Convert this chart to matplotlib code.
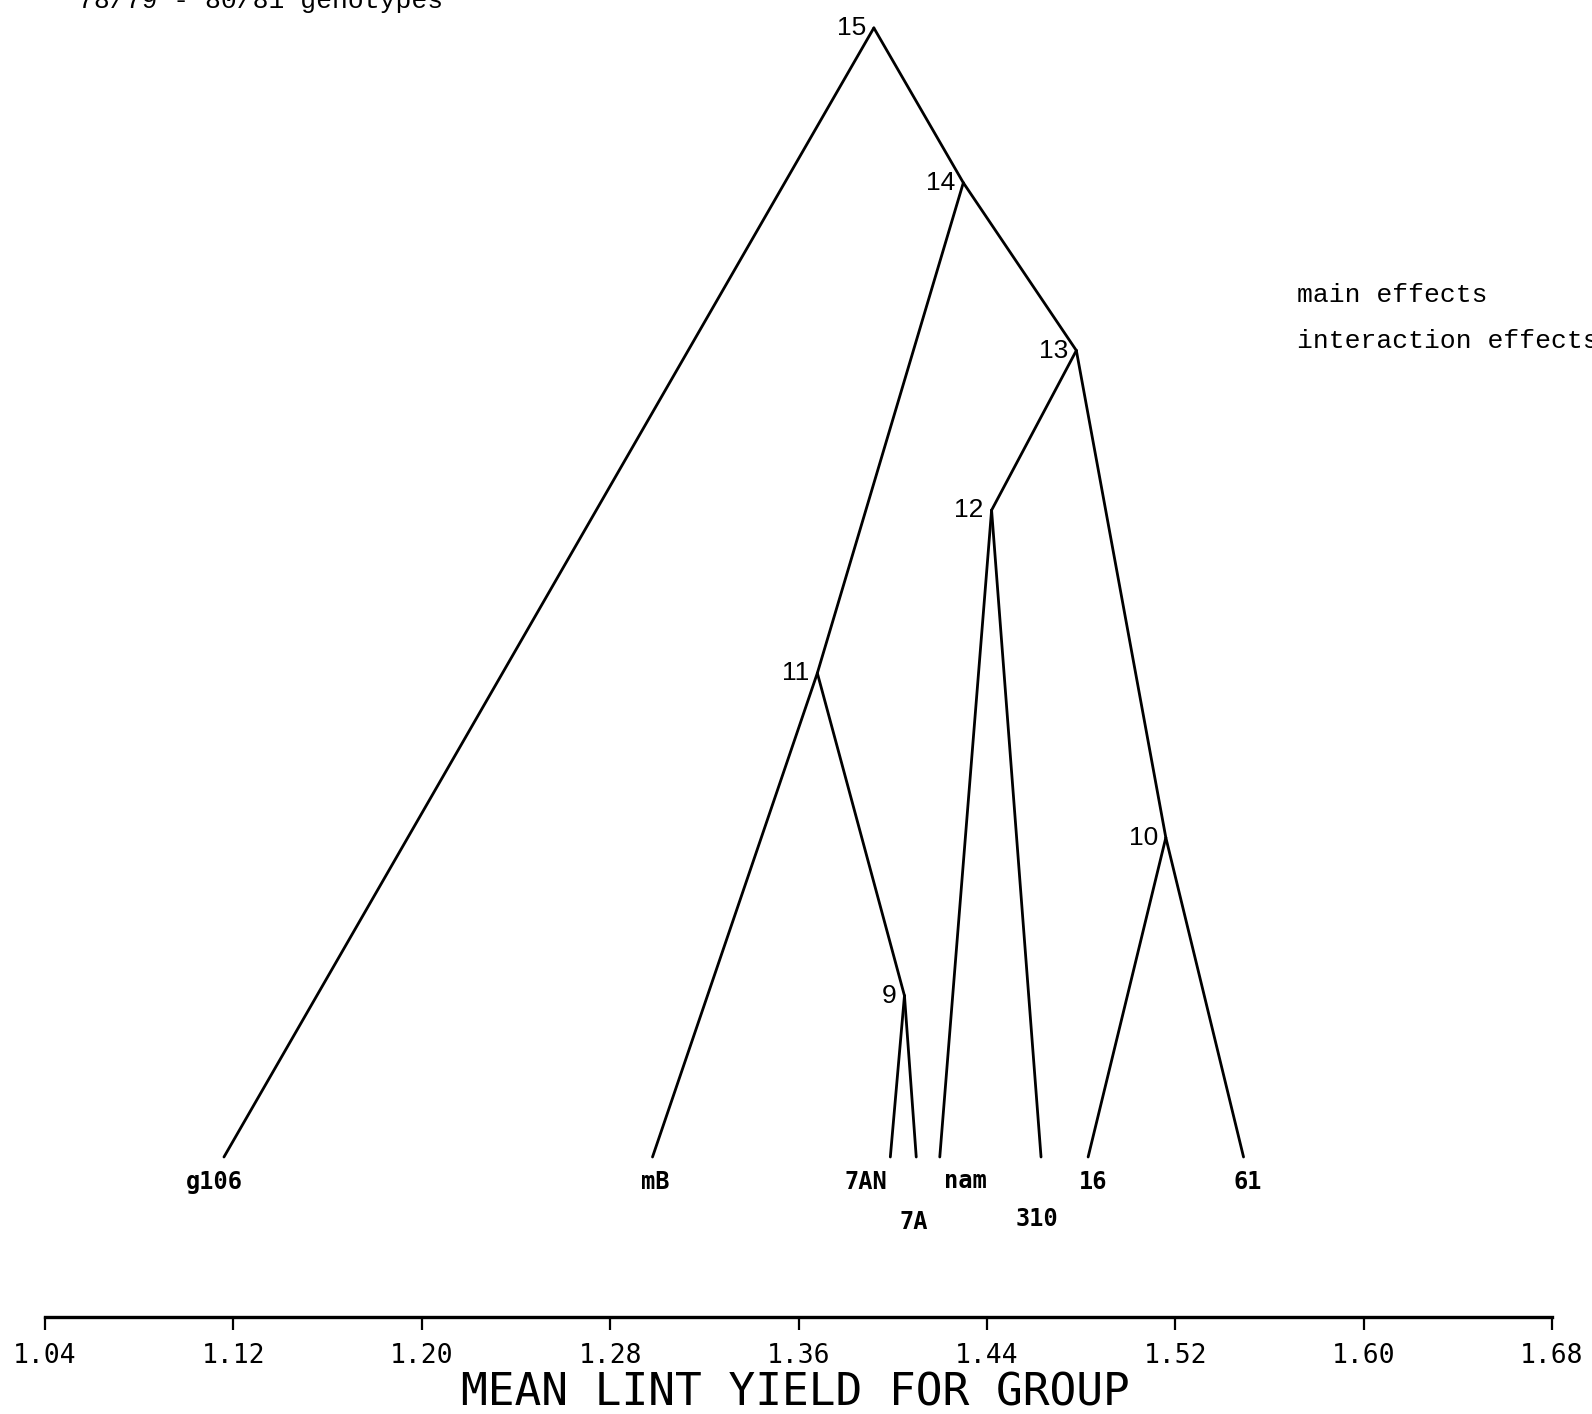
import matplotlib.pyplot as plt

# ── Genotype leaves: mean lint yield ─────────────────────────────────────────
leaf_names = ['g106', 'mB', '7AN', '7A', 'nam', '310', '16', '61']
leaf_yield = [1.116, 1.298, 1.399, 1.410, 1.420, 1.463, 1.483, 1.549]

# ── Fusion nodes: group mean yield, fusion level, the two groups joined ─────
node_ids = [9, 10, 11, 12, 13, 14, 15]
node_yield = [1.405, 1.516, 1.368, 1.442, 1.478, 1.430, 1.392]
node_level = [1.0, 1.98, 3.0, 4.01, 5.0, 6.04, 7.0]
node_children = [('7AN', '7A'), ('16', '61'), ('mB', 9), ('nam', '310'),
                 (12, 10), (11, 13), ('g106', 14)]

tick_values = [1.04, 1.12, 1.20, 1.28, 1.36, 1.44, 1.52, 1.60, 1.68]

# leaf label offsets in pixels (dx, dy) below the leaf tips
LEAF_OFF = {'g106': (-10, -25), 'mB': (3, -25), '7AN': (-24, -25),
            '7A': (-2, -65), 'nam': (26, -24), '310': (-4, -62),
            '16': (5, -25), '61': (4, -25)}

W, H = 1592, 1414
fig = plt.figure(figsize=(W / 100, H / 100), dpi=100)
fig.patch.set_facecolor('white')

# axes: x spans the printed scale, bottom edge is the drawn axis line
ax = fig.add_axes([45 / W, 1 - 1317 / H, (1552 - 45) / W, 1317 / H])
ax.set_xlim(1.04, 1.68)
step = 161.3
ax.set_ylim(-160 / step, (1317 - 160) / step)
ax.patch.set_alpha(0)
for s in ('left', 'top', 'right'):
    ax.spines[s].set_visible(False)
ax.spines['bottom'].set_linewidth(2.4)
ax.set_yticks([])
ax.set_xticks(tick_values)
ax.set_xticklabels(['%.2f' % v for v in tick_values])
ax.tick_params(axis='x', direction='out', length=9, width=1.6, pad=10,
               labelsize=19, color='black')
for lab in ax.get_xticklabels():
    lab.set_family('DejaVu Sans Mono')

pos = {n: (x, 0.0) for n, x in zip(leaf_names, leaf_yield)}
for nid, x, lv in zip(node_ids, node_yield, node_level):
    pos[nid] = (x, lv)

# branches
for nid, kids in zip(node_ids, node_children):
    px, py = pos[nid]
    for k in kids:
        kx, ky = pos[k]
        ax.plot([px, kx], [py, ky], color='black', lw=2.0,
                solid_capstyle='round', clip_on=False)

# node numbers
for nid in node_ids:
    ax.annotate(str(nid), pos[nid], xytext=(-8, 0), textcoords='offset pixels',
                ha='right', va='center', fontsize=19, family='Liberation Sans',
                annotation_clip=False)

# genotype labels
for n in leaf_names:
    ax.annotate(n, pos[n], xytext=LEAF_OFF[n], textcoords='offset pixels',
                ha='center', va='center', fontsize=17, fontweight='bold',
                family='DejaVu Sans Mono', annotation_clip=False)

fig.text(795 / W, 1 - 1393 / H, 'MEAN LINT YIELD FOR GROUP', ha='center',
         va='center', fontsize=32, family='DejaVu Sans Mono')

fig.text(78 / W, 1 - 8 / H, '78/79 - 80/81 genotypes', va='baseline',
         fontsize=19, family='Liberation Mono')
fig.text(1297 / W, 1 - 295 / H, 'main effects', va='center',
         fontsize=19, family='Liberation Mono')
fig.text(1297 / W, 1 - 341 / H, 'interaction effects', va='center',
         fontsize=19, family='Liberation Mono')

fig.savefig('out.png', dpi=100, facecolor='white')
